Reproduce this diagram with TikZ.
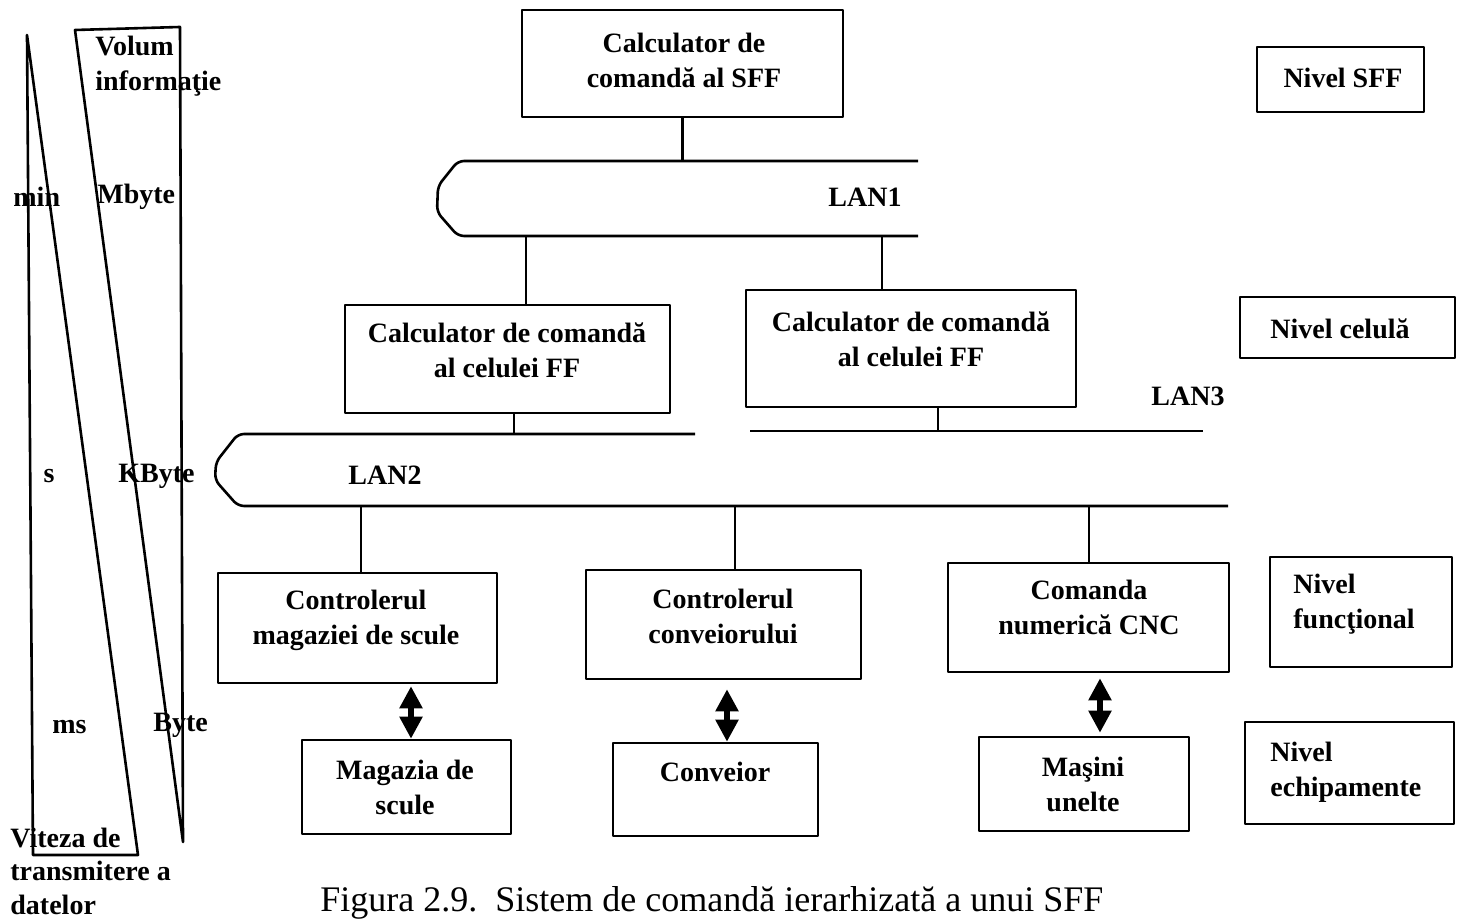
\documentclass[tikz,border=0pt]{standalone}
\usepackage{fontspec}
\setmainfont{Liberation Serif}
\usetikzlibrary{arrows.meta}
\begin{document}
\begin{tikzpicture}[x=0.5pt,y=-0.5pt,
  line join=round,
  wire/.style={line width=1.3pt},
  box/.style={draw, line width=1.3pt, inner sep=0pt},
  lbl/.style={font=\fontsize{14}{17.5}\selectfont\bfseries, inner sep=0pt, align=center},
  lbll/.style={lbl, align=left, anchor=west},
  dbl/.style={line width=2.6pt, {Triangle[width=11pt,length=11pt]}-{Triangle[width=11pt,length=11pt]}},
]
\useasboundingbox (0,0) rectangle (1463,924);

% ---- scale wedges on the left ----
\draw[wire] (27,35) -- (33,855) -- (138,855) -- cycle;
\draw[wire] (75,30) -- (180,27) -- (183,842) -- cycle;
\node[lbll] (vol) at (95,66) {Volum\\informaţie};
\node[lbll] (tmin) at (13,197) {min};
\node[lbll] (tmb) at (97,197) {Mbyte};
\node[lbl] (ts) at (49,476) {s};
\node[lbll] (tkb) at (118,476) {KByte};
\node[lbll] (tms) at (52,727) {ms};
\node[lbll] (tb) at (153,725) {Byte};
\node[lbll, font=\fontsize{14}{16.75}\selectfont\bfseries] (vit) at (10,871) {Viteza de\\transmitere a\\datelor};

% ---- boxes ----
\node[box, minimum width=160.5pt, minimum height=53.5pt] (b1) at (682.5,63.5) {};
\node[box, minimum width=83.5pt, minimum height=32.5pt] (nsff) at (1340.5,79.5) {};
\node[box, minimum width=162.5pt, minimum height=54pt] (c1) at (507.5,359) {};
\node[box, minimum width=165pt, minimum height=58.5pt] (c2) at (911,348.5) {};
\node[box, minimum width=107.5pt, minimum height=30.5pt] (ncel) at (1347.5,327.5) {};
\node[box, minimum width=139.5pt, minimum height=55pt] (k1) at (357.5,628) {};
\node[box, minimum width=137.5pt, minimum height=54.5pt] (k2) at (723.5,624.5) {};
\node[box, minimum width=140.5pt, minimum height=54.5pt] (k3) at (1088.5,617.5) {};
\node[box, minimum width=91pt, minimum height=55pt] (nfun) at (1361,612) {};
\node[box, minimum width=104.5pt, minimum height=47pt] (m1) at (406.5,787) {};
\node[box, minimum width=102.5pt, minimum height=46.5pt] (m2) at (715.5,789.5) {};
\node[box, minimum width=105pt, minimum height=47pt] (m3) at (1084,784) {};
\node[box, minimum width=104.5pt, minimum height=51pt] (nech) at (1349.5,773) {};

% ---- box texts ----
\node[lbl] (tb1) at (684,60) {Calculator de\\comandă al SFF};
\node[lbl] (tnsff) at (1343,78) {Nivel SFF};
\node[lbl] (tc1) at (507,350) {Calculator de comandă\\al celulei FF};
\node[lbl] (tc2) at (911,339) {Calculator de comandă\\al celulei FF};
\node[lbl] (tncel) at (1340,329) {Nivel celulă};
\node[lbl] (tk1) at (356,620) {Controlerul\\magaziei de scule};
\node[lbl] (tk2) at (723,616) {Controlerul\\conveiorului};
\node[lbl] (tk3) at (1089,607.5) {Comanda\\numerică CNC};
\node[lbll] (tnfun) at (1293,604.5) {Nivel\\funcţional};
\node[lbl] (tm1) at (405,787) {Magazia de\\scule};
\node[lbl] (tm2) at (715,772) {Conveior};
\node[lbl] (tm3) at (1083,784) {Maşini\\unelte};
\node[lbll] (tnech) at (1270,772) {Nivel\\echipamente};

% ---- LAN1 ----
\coordinate (l1t) at (918,161);
\coordinate (l1b) at (918,236);
\draw[wire, rounded corners=3pt] (l1t) -- (458,161) -- (438,186) -- (437,212) -- (458,236) -- (l1b);
\node[lbl] (lan1) at (865,197) {LAN1};
\draw[wire] (b1.south) -- (b1.south |- l1t);
\coordinate (l1d1) at (526,236);
\coordinate (l1d2) at (882,236);
\draw[wire] (l1d1) -- (l1d1 |- c1.north);
\draw[wire] (l1d2) -- (l1d2 |- c2.north);

% ---- LAN2 ----
\coordinate (l2t) at (695,434);
\coordinate (l2b) at (1228,506);
\draw[wire, rounded corners=3pt] (l2t) -- (238,434) -- (216,462) -- (215,480) -- (238,506) -- (l2b);
\node[lbl] (lan2) at (385,475) {LAN2};
\coordinate (l2u) at (514,434);
\draw[wire] (l2u |- c1.south) -- (l2u);
\coordinate (l2d1) at (361,506);
\coordinate (l2d2) at (735,506);
\coordinate (l2d3) at (1089,506);
\draw[wire] (l2d1) -- (l2d1 |- k1.north);
\draw[wire] (l2d2) -- (l2d2 |- k2.north);
\draw[wire] (l2d3) -- (l2d3 |- k3.north);

% ---- LAN3 ----
\coordinate (l3a) at (750,431);
\coordinate (l3b) at (1203,431);
\draw[wire] (l3a) -- (l3b);
\node[lbl] (lan3) at (1188,396) {LAN3};
\coordinate (l3u) at (938,431);
\draw[wire] (l3u |- c2.south) -- (l3u);

% ---- controller / equipment links ----
\coordinate (ax1) at (411,0);
\coordinate (ax2) at (727,0);
\coordinate (ax3) at (1100,0);
\draw[dbl, shorten <=1pt] (ax1 |- k1.south) -- (ax1 |- m1.north);
\draw[dbl, shorten <=4.5pt] (ax2 |- k2.south) -- (ax2 |- m2.north);
\draw[dbl, shorten <=2.5pt, shorten >=1.5pt] (ax3 |- k3.south) -- (ax3 |- m3.north);

% ---- caption ----
\node[font=\fontsize{18}{21}\selectfont, anchor=base west, inner sep=0pt] (cap) at (320,912) {Figura 2.9.\ \ Sistem de comandă ierarhizată a unui SFF};
\end{tikzpicture}
\end{document}
